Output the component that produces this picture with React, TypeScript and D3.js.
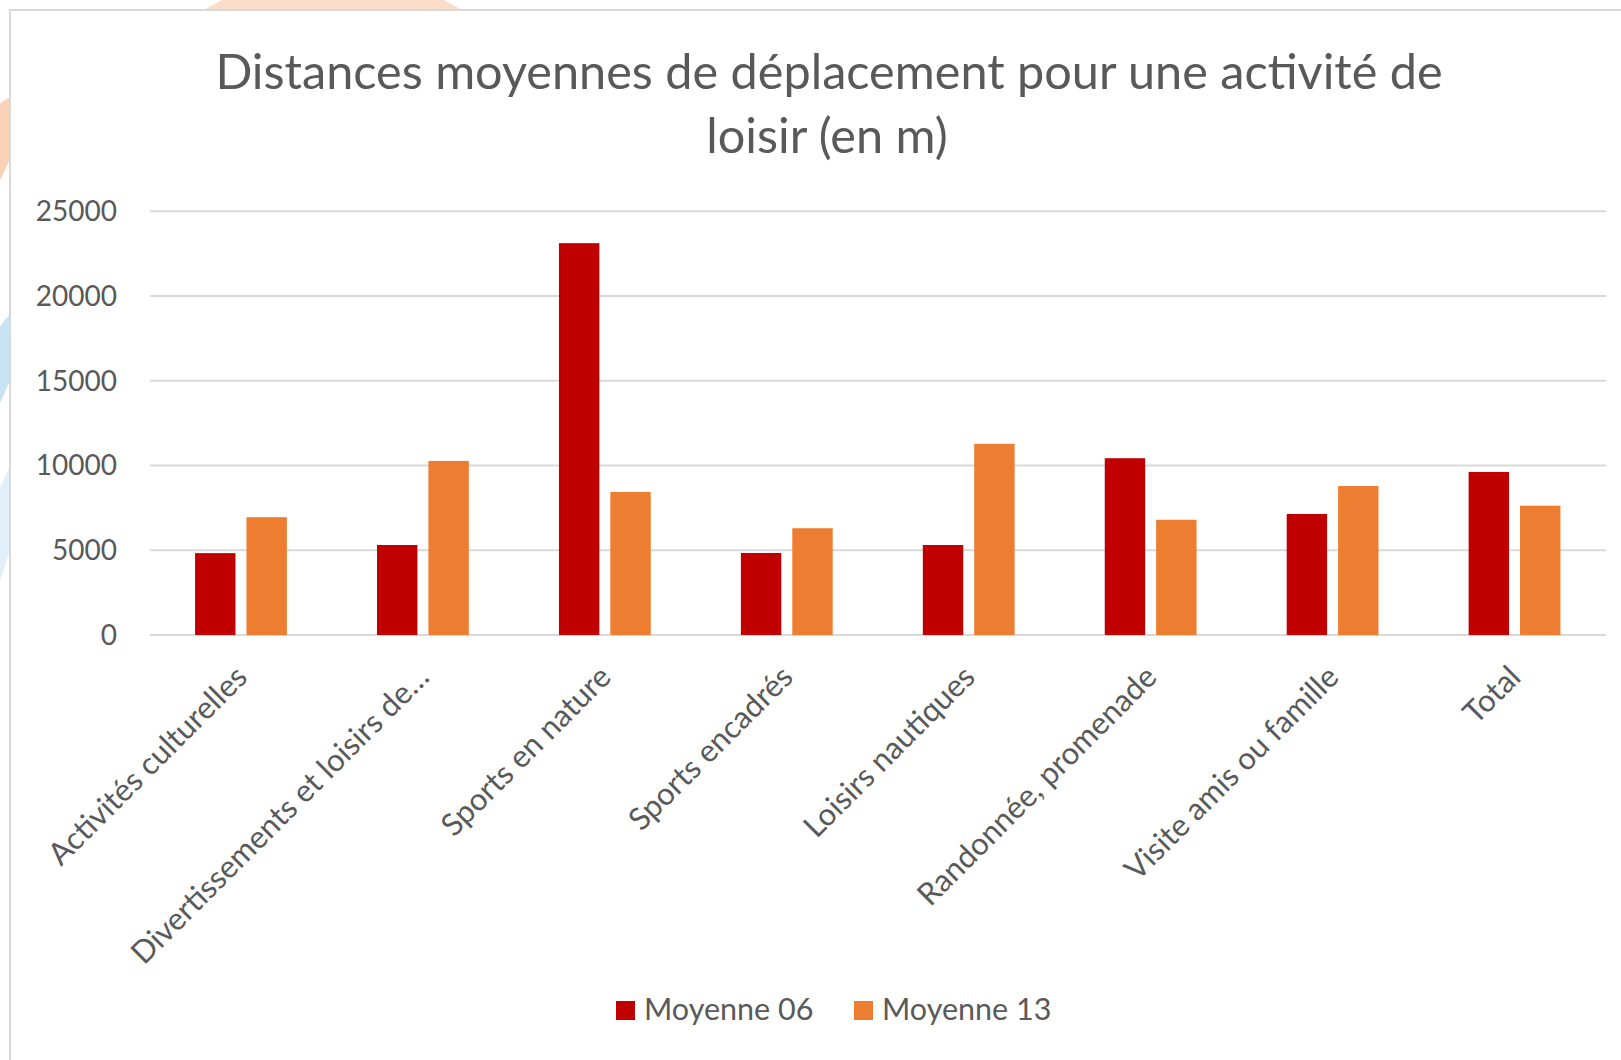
import React from 'react';
import * as d3 from 'd3';

const categories = [
  'Activités culturelles',
  'Divertissements et loisirs de…',
  'Sports en nature',
  'Sports encadrés',
  'Loisirs nautiques',
  'Randonnée, promenade',
  'Visite amis ou famille',
  'Total',
];
const seriesNames = ['Moyenne 06', 'Moyenne 13'];
const moyenne06 = [4830, 5310, 23120, 4840, 5310, 10430, 7140, 9620];
const moyenne13 = [6950, 10270, 8440, 6300, 11280, 6800, 8790, 7630];
const yTicks = [0, 5000, 10000, 15000, 20000, 25000];

const COLORS = ['#C00000', '#ED7D31'];
const TEXT = '#595959';
const GRID = '#D9D9D9';
const FONT = 'Lato, "Open Sans", sans-serif';

const W = 1621;
const H = 1060;

export default function App() {
  const x0 = d3.scaleBand<string>().domain(categories).range([150, 1605.5]).padding(0);
  const bw = x0.bandwidth();
  const x1 = d3
    .scaleBand<string>()
    .domain(seriesNames)
    .range([bw / 2 - 45.9, bw / 2 + 45.9])
    .paddingInner(0.214);
  const y = d3.scaleLinear().domain([0, 25000]).range([635, 211.3]);

  const series = [moyenne06, moyenne13];

  return (
    <div style={{ position: 'fixed', left: 0, top: 0, width: W, height: H, background: '#fff' }}>
      <svg width={W} height={H} style={{ display: 'block' }}>
        {/* background decorations behind the chart box */}
        <circle cx={333} cy={223} r={249} fill="#FBDCC6" />
        <ellipse cx={-6} cy={150} rx={18} ry={55} fill="#F8D2B8" transform="rotate(20 -6 150)" />
        <ellipse cx={-4} cy={372} rx={16} ry={64} fill="#C9E2F3" transform="rotate(20 -4 372)" />
        <ellipse cx={-2} cy={540} rx={14} ry={86} fill="#E0EFF9" transform="rotate(15 -2 540)" />

        {/* chart box */}
        <rect x={10} y={10} width={1700} height={1200} fill="#fff" stroke={GRID} strokeWidth={2} />

        {/* title */}
        <text x={829} y={89} textAnchor="middle" fill={TEXT} fontFamily={FONT} fontSize={48.6}>
          Distances moyennes de déplacement pour une activité de
        </text>
        <text x={827} y={153} textAnchor="middle" fill={TEXT} fontFamily={FONT} fontSize={48.6}>
          loisir (en m)
        </text>

        {/* gridlines + y labels */}
        {yTicks.map((t) => (
          <g key={t}>
            <line x1={150} x2={1606} y1={y(t)} y2={y(t)} stroke={GRID} strokeWidth={2} />
            <text
              x={117}
              y={y(t)}
              dy="0.35em"
              textAnchor="end"
              fill={TEXT}
              fontFamily={FONT}
              fontSize={28}
            >
              {t}
            </text>
          </g>
        ))}

        {/* bars */}
        {categories.map((c, i) => (
          <g key={c} transform={`translate(${x0(c)},0)`}>
            {seriesNames.map((s, k) => (
              <rect
                key={s}
                x={x1(s)}
                y={y(series[k][i])}
                width={x1.bandwidth()}
                height={y(0) - y(series[k][i])}
                fill={COLORS[k]}
              />
            ))}
          </g>
        ))}

        {/* x labels, rotated -45deg */}
        {categories.map((c) => {
          const cx = (x0(c) as number) + bw / 2 + 8;
          const cy = 679;
          return (
            <text
              key={c}
              x={cx}
              y={cy}
              textAnchor="end"
              fill={TEXT}
              fontFamily={FONT}
              fontSize={31}
              transform={`rotate(-45 ${cx} ${cy})`}
            >
              {c}
            </text>
          );
        })}

        {/* legend */}
        {seriesNames.map((s, k) => {
          const lx = k === 0 ? 616 : 854;
          return (
            <g key={s}>
              <rect x={lx} y={1001} width={19} height={19} fill={COLORS[k]} />
              <text x={lx + 28} y={1020} fill={TEXT} fontFamily={FONT} fontSize={30.5}>
                {s}
              </text>
            </g>
          );
        })}
      </svg>
    </div>
  );
}
